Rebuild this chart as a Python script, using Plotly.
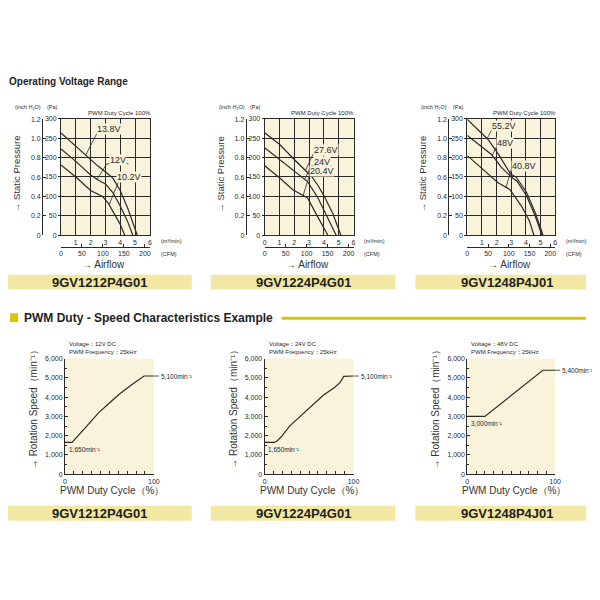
import numpy as np
import plotly.graph_objects as go

# The page has an 8 px body margin; the figure is sized so the page fits in 600x600
OFF = 8
SX = 0.988          # horizontal calibration of the photographed page
FW = 600 - 2 * OFF
FH = 570
CREAM = "#f9f3dc"
DARK = "#2a2a2a"
BAR = "#f2e8a4"
YEL = "#dcc400"
NARROW = "Liberation Sans Narrow, Arial Narrow, Liberation Sans, Arial, sans-serif"
SANS = "Liberation Sans, Arial, sans-serif"

# ---------------- data ----------------
models = ["9GV1212P4G01", "9GV1224P4G01", "9GV1248P4J01"]

# PQ curves (flow m3/min, static pressure Pa)
m1212_v138_flow = [0, 1, 1.7, 2.5, 3.2, 3.5, 4, 4.5, 5.15]
m1212_v138_pa = [263, 229, 203, 178, 157, 147, 115, 70, 0]
m1212_v120_flow = [0, 1, 2, 2.5, 3, 3.5, 4, 4.5, 4.85]
m1212_v120_pa = [222, 190, 155, 142, 132, 110, 75, 35, 0]
m1212_v102_flow = [0, 1, 2, 2.8, 3.2, 3.6, 4, 4.3]
m1212_v102_pa = [181, 150, 115, 100, 82, 55, 28, 0]

m1224_v276_flow = [0, 1, 2, 3, 3.2, 3.6, 4, 4.6, 5.15]
m1224_v276_pa = [264, 234, 195, 158, 150, 128, 102, 56, 0]
m1224_v240_flow = [0, 1, 2, 2.9, 3.6, 4.3, 4.83]
m1224_v240_pa = [225, 195, 164, 138, 96, 43, 0]
m1224_v204_flow = [0, 1, 1.9, 2.9, 3.5, 4.27]
m1224_v204_pa = [179, 148, 117, 96, 53, 0]

m1248_v552_flow = [0, 1.4, 2.1, 2.95, 3.35, 4.05, 4.65, 5.17]
m1248_v552_pa = [298, 247, 210, 158, 149, 110, 57, 0]
m1248_v480_flow = [0, 1.65, 2.3, 3.0, 3.4, 4.05, 4.65, 5.1]
m1248_v480_pa = [257, 208, 176, 150, 139, 101, 48, 0]
m1248_v408_flow = [0, 2.1, 2.9, 3.7, 4.25, 4.55]
m1248_v408_pa = [205, 135, 118, 75, 36, 0]

voltage_labels = [["13.8V", "12V", "10.2V"], ["27.6V", "24V", "20.4V"], ["55.2V", "48V", "40.8V"]]

pa_ticks = [0, 50, 100, 150, 200, 250, 300]
inch_ticks = [0, 0.2, 0.4, 0.6, 0.8, 1.0, 1.2]
inch_ticktext = ["0", "0.2", "0.4", "0.6", "0.8", "1.0", "1.2"]
cfm_ticks = [0, 50, 100, 150, 200]

# PWM duty - speed curves
m1212_duty = [0, 8, 23, 38, 50, 61, 75, 89, 100]
m1212_speed = [1650, 1650, 2420, 3200, 3700, 4150, 4650, 5100, 5100]
m1224_duty = [0, 11, 14, 19, 28, 38, 47, 66, 79, 85, 89, 100]
m1224_speed = [1650, 1650, 1720, 1960, 2500, 2920, 3340, 4100, 4520, 4770, 5080, 5100]
m1248_duty = [0, 20, 86, 100]
m1248_speed = [3000, 3000, 5400, 5400]

voltages_dc = ["12V DC", "24V DC", "48V DC"]
pwm_freq = "25kHz"
min_speed_labels = ["1,650", "1,650", "3,000"]
max_speed_labels = ["5,100", "5,100", "5,400"]
speed_ticks = [0, 1000, 2000, 3000, 4000, 5000, 6000]
speed_ticktext = ["0", "1,000", "2,000", "3,000", "4,000", "5,000", "6,000"]
duty_ticks = [0, 100]

# ---------------- layout geometry (pixels of the 600x600 picture) ----------------
TOP = [(59, 148), (263, 352), (466, 554)]
TOP_T, TOP_B = 116, 234
CFM_Y = 246
BOT = [(63, 152), (263, 352), (466, 554)]
BOT_T, BOT_B = 359, 476
BARS_X = [(6, 190), (209, 394), (414, 598)]

# label leaders: (underline x0, underline x1, underline y, contact flow) in data units
LEADERS = [
    [(2.45, 4.05, 264, 1.65), (3.1, 4.55, 184, 2.43), (3.9, 5.25, 139, 3.25)],
    [(3.26, 4.99, 208, 2.76), (3.15, 4.54, 179, 2.7), (3.03, 4.72, 155, 2.6)],
    [(1.65, 3.34, 270, 1.35), (1.99, 3.11, 227, 1.7), (3.0, 4.7, 169, 2.65)],
]

pq = [
    [(m1212_v138_flow, m1212_v138_pa), (m1212_v120_flow, m1212_v120_pa), (m1212_v102_flow, m1212_v102_pa)],
    [(m1224_v276_flow, m1224_v276_pa), (m1224_v240_flow, m1224_v240_pa), (m1224_v204_flow, m1224_v204_pa)],
    [(m1248_v552_flow, m1248_v552_pa), (m1248_v480_flow, m1248_v480_pa), (m1248_v408_flow, m1248_v408_pa)],
]
speed = [(m1212_duty, m1212_speed), (m1224_duty, m1224_speed), (m1248_duty, m1248_speed)]


def px(x):
    return min(1.0, (x / SX - OFF) / FW)


def py(y):
    return 1 - (y - OFF) / FH


fig = go.Figure()
layout = {}
annotations = []
shapes = []


def ann(text, x, y, size=7, xanchor="center", yanchor="middle", angle=0, family=NARROW, color=DARK, **kw):
    annotations.append(dict(text=text, x=px(x), y=py(y), xref="paper", yref="paper",
                            showarrow=False, xanchor=xanchor, yanchor=yanchor, textangle=angle,
                            font=dict(size=size, family=family, color=color), **kw))


tickfont = dict(size=7, family=NARROW, color=DARK)


def k(n):
    return "" if n == 1 else str(n)


# ---------------- top charts ----------------
for i, (l, r) in enumerate(TOP):
    xm, xc = 2 * i + 1, 2 * i + 2
    ym, yi = 2 * i + 1, 2 * i + 2
    xd = [px(l), px(r)]
    yd = [py(TOP_B), py(TOP_T)]
    layout["xaxis" + k(xm)] = dict(domain=xd, range=[0, 6], anchor="y" + k(ym),
                                   tickvals=([0] if i == 1 else []) + [1, 2, 3, 4, 5, 6],
                                   showgrid=True, gridcolor=DARK, gridwidth=0.8,
                                   showline=True, mirror=True, linecolor=DARK, linewidth=1,
                                   ticks="", zeroline=False, tickfont=tickfont, fixedrange=True)
    layout["yaxis" + k(ym)] = dict(domain=yd, range=[0, 300], anchor="x" + k(xm), tickvals=pa_ticks,
                                   showgrid=True, gridcolor=DARK, gridwidth=0.8,
                                   showline=True, mirror=True, linecolor=DARK, linewidth=1,
                                   ticks="outside", ticklen=2, tickcolor=DARK,
                                   zeroline=False, tickfont=tickfont, fixedrange=True)
    layout["xaxis" + k(xc)] = dict(domain=xd, range=[0, 6 * 35.3147], overlaying="x" + k(xm),
                                   anchor="free", position=py(CFM_Y), side="bottom",
                                   tickvals=cfm_ticks, showgrid=False, showline=True,
                                   linecolor=DARK, linewidth=1, ticks="inside", ticklen=3,
                                   tickcolor=DARK, zeroline=False, tickfont=tickfont, fixedrange=True)
    layout["yaxis" + k(yi)] = dict(domain=yd, range=[0, 300 / 249.089], overlaying="y" + k(ym),
                                   anchor="free", position=px(l - 19), side="left",
                                   tickvals=inch_ticks, ticktext=inch_ticktext, showgrid=False,
                                   showline=True, linecolor=DARK, linewidth=1, ticks="inside",
                                   ticklen=3, tickcolor=DARK, zeroline=False, tickfont=tickfont,
                                   fixedrange=True)
    # dummy traces so the extra axes render
    fig.add_trace(go.Scatter(x=[None], y=[None], xaxis="x" + k(xc), yaxis="y" + k(ym),
                             showlegend=False, hoverinfo="skip"))
    fig.add_trace(go.Scatter(x=[None], y=[None], xaxis="x" + k(xm), yaxis="y" + k(yi),
                             showlegend=False, hoverinfo="skip"))
    for j, (fx, fp) in enumerate(pq[i]):
        fig.add_trace(go.Scatter(x=fx, y=fp, mode="lines", xaxis="x" + k(xm), yaxis="y" + k(ym),
                                 line=dict(color=DARK, width=1.2), showlegend=False,
                                 name=voltage_labels[i][j], cliponaxis=True))
        ux0, ux1, uy, cx = LEADERS[i][j]
        cy = float(np.interp(cx, fx, fp))
        shapes.append(dict(type="path", xref="x" + k(xm), yref="y" + k(ym),
                           path=f"M {cx},{cy} L {ux0},{uy} L {ux1},{uy}",
                           line=dict(color=DARK, width=0.8)))
        annotations.append(dict(text=voltage_labels[i][j], x=(ux0 + ux1) / 2, y=uy,
                                xref="x" + k(xm), yref="y" + k(ym), showarrow=False,
                                xanchor="center", yanchor="bottom", yshift=-2,
                                bgcolor=CREAM, borderpad=0,
                                font=dict(size=9, family=SANS, color=DARK)))
    # texts
    ann("PWM Duty Cycle 100%", r + 3, 110, size=6, xanchor="right")
    ann("(inch H₂O)", l - 33, 104, size=5.5)
    ann("(Pa)", l - 9, 104, size=5.5)
    ann("→ Static Pressure", l - 44, 172, size=9.5, angle=-90, family=SANS, color="#333")
    ann("→ Airflow", (l + r) / 2 - 2, 264, size=10, family=SANS, color="#333")
    ann("(m³/min)", r + 9, 240, size=5.5, xanchor="left")
    ann("(CFM)", r + 9, 253, size=5.5, xanchor="left")

# ---------------- bottom charts ----------------
for i, (l, r) in enumerate(BOT):
    n = 7 + i
    layout[f"xaxis{n}"] = dict(domain=[px(l), px(r)], range=[0, 100], anchor=f"y{n}",
                               tickvals=duty_ticks,
                               minor=dict(dtick=10, ticks="inside", ticklen=3, tickcolor=DARK),
                               showgrid=False, showline=True, linecolor=DARK, linewidth=1,
                               ticks="inside", ticklen=3, tickcolor=DARK, zeroline=False,
                               tickfont=tickfont, fixedrange=True)
    layout[f"yaxis{n}"] = dict(domain=[py(BOT_B), py(BOT_T)], range=[0, 6000], anchor=f"x{n}",
                               tickvals=speed_ticks, ticktext=speed_ticktext,
                               showgrid=False, showline=True, linecolor=DARK, linewidth=1,
                               ticks="inside", ticklen=3, tickcolor=DARK, zeroline=False,
                               minor=dict(dtick=500, ticks="inside", ticklen=2, tickcolor=DARK),
                               tickfont=tickfont, fixedrange=True)
    dx, sp = speed[i]
    fig.add_trace(go.Scatter(x=dx, y=sp, mode="lines", xaxis=f"x{n}", yaxis=f"y{n}",
                             line=dict(color=DARK, width=1.2), showlegend=False, cliponaxis=False))
    annotations.append(dict(text=f"{max_speed_labels[i]}min⁻¹", x=dx[-1], y=sp[-1],
                            xref=f"x{n}", yref=f"y{n}", showarrow=True, arrowhead=0,
                            arrowwidth=0.8, arrowcolor=DARK, ax=5, ay=0, xanchor="left",
                            font=dict(size=6.5, family=NARROW, color=DARK)))
    annotations.append(dict(text=f"{min_speed_labels[i]}min⁻¹", x=2, y=sp[0],
                            xref=f"x{n}", yref=f"y{n}", showarrow=False, xanchor="left",
                            yanchor="top", yshift=-2,
                            font=dict(size=6.5, family=NARROW, color=DARK)))
    ann(f"Voltage：{voltages_dc[i]}", l + 2, 344, size=6, xanchor="left")
    ann(f"PWM Frequency：{pwm_freq}", l + 2, 352, size=6, xanchor="left")
    ann("→ Rotation Speed（min⁻¹）", l - 32, 408, size=10, angle=-90, family=SANS, color="#333")
    ann("PWM Duty Cycle（%）", (l + r) / 2 + 3, 492, size=10, family=SANS, color="#333")

# ---------------- model bars & headers ----------------
for (x0, x1), name in zip(BARS_X, models):
    for y0, y1 in [(274, 289), (508, 523)]:
        shapes.append(dict(type="rect", xref="paper", yref="paper", x0=px(x0), x1=px(x1),
                           y0=py(y1), y1=py(y0), fillcolor=BAR, line=dict(width=0), layer="below"))
        ann(f"<b>{name}</b>", (x0 + x1) / 2, (y0 + y1) / 2 + 0.5, size=13, family=SANS, color="#1e1e1e")

ann("<b>Operating Voltage Range</b>", 5, 78, size=10, xanchor="left", color="#1e1e1e")
shapes.append(dict(type="rect", xref="paper", yref="paper", x0=px(8), x1=px(16), y0=py(322), y1=py(313),
                   fillcolor=YEL, line=dict(width=0)))
ann("<b>PWM Duty - Speed Characteristics Example</b>", 20, 317.5, size=12, xanchor="left", color="#1e1e1e")
shapes.append(dict(type="line", xref="paper", yref="paper", x0=px(280), x1=1, y0=py(318), y1=py(318),
                   line=dict(color=YEL, width=3)))

fig.update_layout(width=FW, height=FH, margin=dict(l=0, r=0, t=0, b=0),
                  paper_bgcolor="white", plot_bgcolor=CREAM, showlegend=False,
                  annotations=annotations, shapes=shapes, **layout)
fig.write_html("out.html")
